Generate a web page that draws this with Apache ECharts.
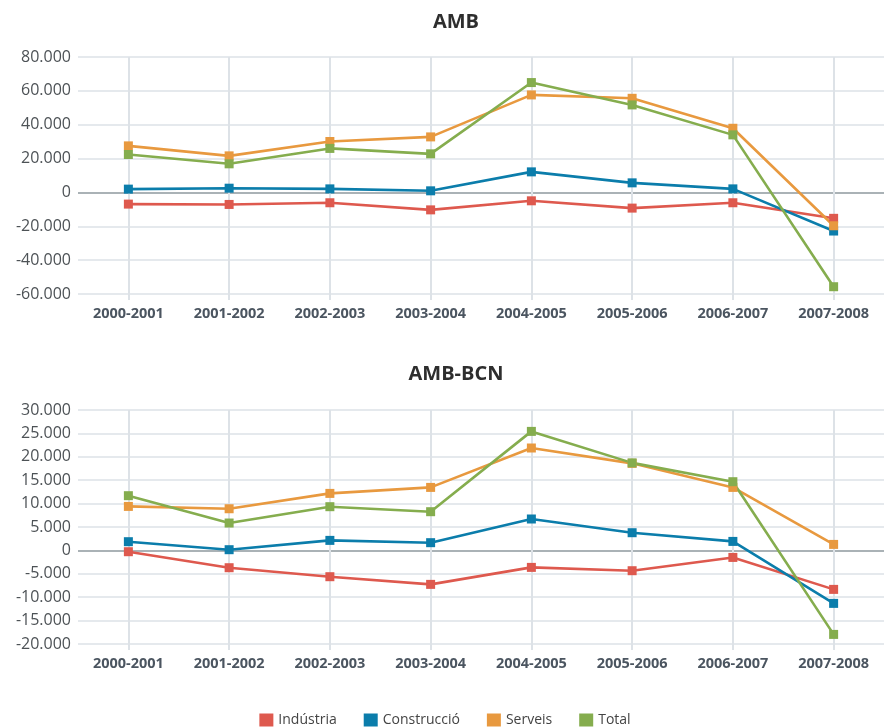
<!DOCTYPE html>
<html>
<head>
<meta charset="utf-8">
<script src="https://cdn.jsdelivr.net/npm/echarts@6/dist/echarts.min.js"></script>
<style>
html,body{margin:0;padding:0;background:#fff;}
#chart{width:890px;height:727px;}
</style>
</head>
<body>
<div id="chart"></div>
<script>
const categories = ['2000-2001','2001-2002','2002-2003','2003-2004','2004-2005','2005-2006','2006-2007','2007-2008'];
const seriesNames = ['Indústria','Construcció','Serveis','Total'];

// AMB
const ambIndustria   = [-6900, -7100, -6100, -10300, -4950, -9260, -6100, -15300];
const ambConstruccio = [1950, 2500, 2100, 950, 12150, 5660, 2100, -22800];
const ambServeis     = [27500, 21600, 30100, 32800, 57600, 55600, 37900, -19700];
const ambTotal       = [22400, 16900, 26000, 22800, 64900, 51700, 34000, -55700];

// AMB-BCN
const bcnIndustria   = [-280, -3700, -5620, -7260, -3630, -4340, -1500, -8330];
const bcnConstruccio = [1860, 150, 2140, 1650, 6710, 3780, 1920, -11320];
const bcnServeis     = [9400, 8900, 12180, 13460, 21880, 18600, 13460, 1280];
const bcnTotal       = [11690, 5850, 9340, 8270, 25430, 18700, 14680, -17950];

const titles = ['AMB', 'AMB-BCN'];

const colors = ['#de594e', '#0b7dab', '#e8993f', '#85ad4e'];
const FONT = '"Open Sans", sans-serif';

function fmt(v) {
  if (v === 0) return '0';
  const neg = v < 0;
  let s = Math.abs(v).toString().replace(/\B(?=(\d{3})+(?!\d))/g, '.');
  return (neg ? '-' : '') + s;
}

const gridLine = '#dde2e7';
const zeroLine = '#8e989e';

function yAxis(idx, min, max, interval) {
  const n = Math.round((max - min) / interval) + 1;
  const cols = [];
  for (let i = 0; i < n; i++) cols.push(min + i * interval === 0 ? zeroLine : gridLine);
  return {
    type: 'value', gridIndex: idx, min: min, max: max, interval: interval,
    axisLine: {show: false}, axisTick: {show: false},
    axisLabel: {formatter: fmt, fontSize: 16, color: '#4d5256', fontFamily: FONT, margin: 7},
    splitLine: {show: true, lineStyle: {color: cols, width: 1.6}}
  };
}
function xAxis(idx) {
  return {
    type: 'category', gridIndex: idx, data: categories, boundaryGap: true,
    axisLine: {show: false, onZero: false},
    axisTick: {show: true, alignWithLabel: true, length: 6, lineStyle: {color: gridLine, width: 2}},
    splitLine: {show: true, alignWithLabel: true, lineStyle: {color: gridLine, width: 2}},
    axisLabel: {fontSize: 14.5, fontWeight: 'bold', color: '#4b5560', fontFamily: FONT, margin: 12, interval: 0}
  };
}
function mk(name, data, ci, gi) {
  return {
    name: name, type: 'line', data: data, xAxisIndex: gi, yAxisIndex: gi,
    symbol: 'rect', symbolSize: 9, showSymbol: true,
    lineStyle: {width: 2.6, color: colors[ci]},
    itemStyle: {color: colors[ci]},
    animation: false
  };
}

const chart = echarts.init(document.getElementById('chart'), null, {renderer: 'canvas'});
chart.setOption({
  backgroundColor: '#ffffff',
  animation: false,
  textStyle: {fontFamily: FONT},
  title: [
    {text: titles[0], left: 456, top: 12, textAlign: 'center', padding: 0,
     textStyle: {fontSize: 20, fontWeight: 'bold', color: '#2e2e2e', fontFamily: FONT}},
    {text: titles[1], left: 456, top: 364, textAlign: 'center', padding: 0,
     textStyle: {fontSize: 20, fontWeight: 'bold', color: '#2e2e2e', fontFamily: FONT}}
  ],
  legend: {
    data: seriesNames, left: 'center', top: 708, icon: 'rect',
    itemWidth: 14, itemHeight: 13, itemGap: 27,
    textStyle: {fontSize: 14, color: '#444', fontFamily: FONT}
  },
  grid: [
    {left: 78, right: 6, top: 57, height: 237},
    {left: 78, right: 6, top: 410, height: 234}
  ],
  xAxis: [xAxis(0), xAxis(1)],
  yAxis: [yAxis(0, -60000, 80000, 20000), yAxis(1, -20000, 30000, 5000)],
  series: [
    mk(seriesNames[0], ambIndustria, 0, 0),
    mk(seriesNames[1], ambConstruccio, 1, 0),
    mk(seriesNames[2], ambServeis, 2, 0),
    mk(seriesNames[3], ambTotal, 3, 0),
    mk(seriesNames[0], bcnIndustria, 0, 1),
    mk(seriesNames[1], bcnConstruccio, 1, 1),
    mk(seriesNames[2], bcnServeis, 2, 1),
    mk(seriesNames[3], bcnTotal, 3, 1)
  ]
});
</script>
</body>
</html>
